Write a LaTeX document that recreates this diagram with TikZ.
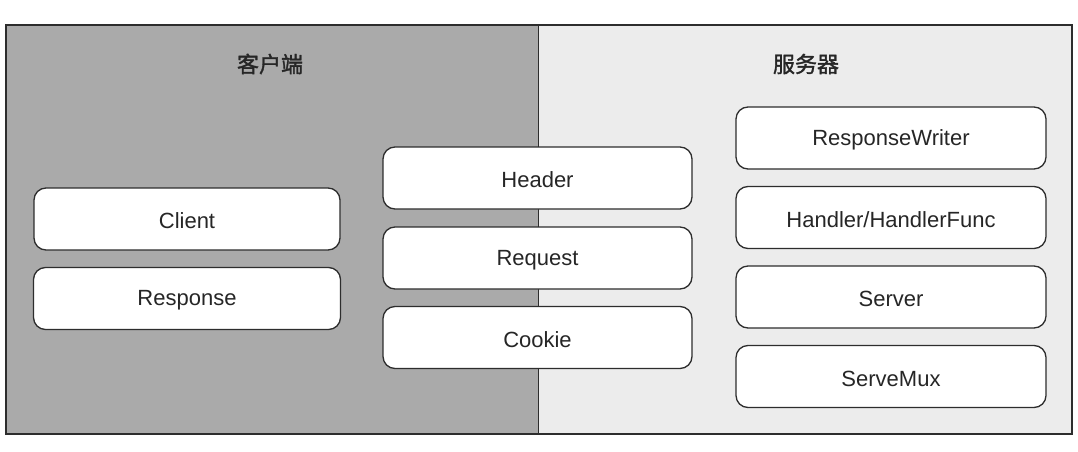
\documentclass[tikz,border=0pt]{standalone}
\usepackage{fontspec}
\setmainfont{Liberation Sans}
\newfontfamily\cjk[FakeBold=1.5]{Noto Sans CJK SC}
\definecolor{leftbg}{RGB}{170,170,170}
\definecolor{rightbg}{RGB}{236,236,236}
\definecolor{edge}{RGB}{45,45,45}
\begin{document}
\begin{tikzpicture}[x=1pt,y=-1pt,
  item/.style={draw=edge,line width=1.3pt,fill=white,rounded corners=12pt,
    minimum width=#1,minimum height=62pt,inner sep=0pt},
  item/.default=306pt,
  lbl/.style={font=\fontsize{22}{26}\selectfont,text=black!85,yshift=-2pt},
  ttl/.style={font=\cjk\fontsize{22}{26}\selectfont,text=black!85}]
\useasboundingbox (0,0) rectangle (1078,452);
\fill[white] (0,0) rectangle (1078,452);
\fill[leftbg] (6,25) rectangle (538,434);
\fill[rightbg] (538,25) rectangle (1072,434);
\draw[edge,line width=1pt] (538,25) -- (538,434);
\draw[edge,line width=1.3pt] (6,25) rectangle (1072,434);
\node[ttl] (tl) at (270,64) {客户端};
\node[ttl] (tr) at (806,64) {服务器};
\node[item=306pt] (client) at (187,219) {};
\node[lbl] (clientT) at (client) {Client};
\node[item=307pt] (resp) at (187,298.5) {};
\node[lbl] (respT) at (resp) {Response};
\node[item=309pt] (header) at (537.5,178) {};
\node[lbl] (headerT) at (header) {Header};
\node[item=309pt] (request) at (537.5,258) {};
\node[lbl] (requestT) at (request) {Request};
\node[item=309pt] (cookie) at (537.5,337.5) {};
\node[lbl] (cookieT) at (cookie) {Cookie};
\node[item=310pt] (rw) at (891,138) {};
\node[lbl] (rwT) at (rw) {ResponseWriter};
\node[item=310pt] (hf) at (891,217.5) {};
\node[lbl] (hfT) at (hf) {Handler/HandlerFunc};
\node[item=310pt] (srv) at (891,297) {};
\node[lbl] (srvT) at (srv) {Server};
\node[item=310pt] (mux) at (891,376.5) {};
\node[lbl] (muxT) at (mux) {ServeMux};
\end{tikzpicture}
\end{document}
